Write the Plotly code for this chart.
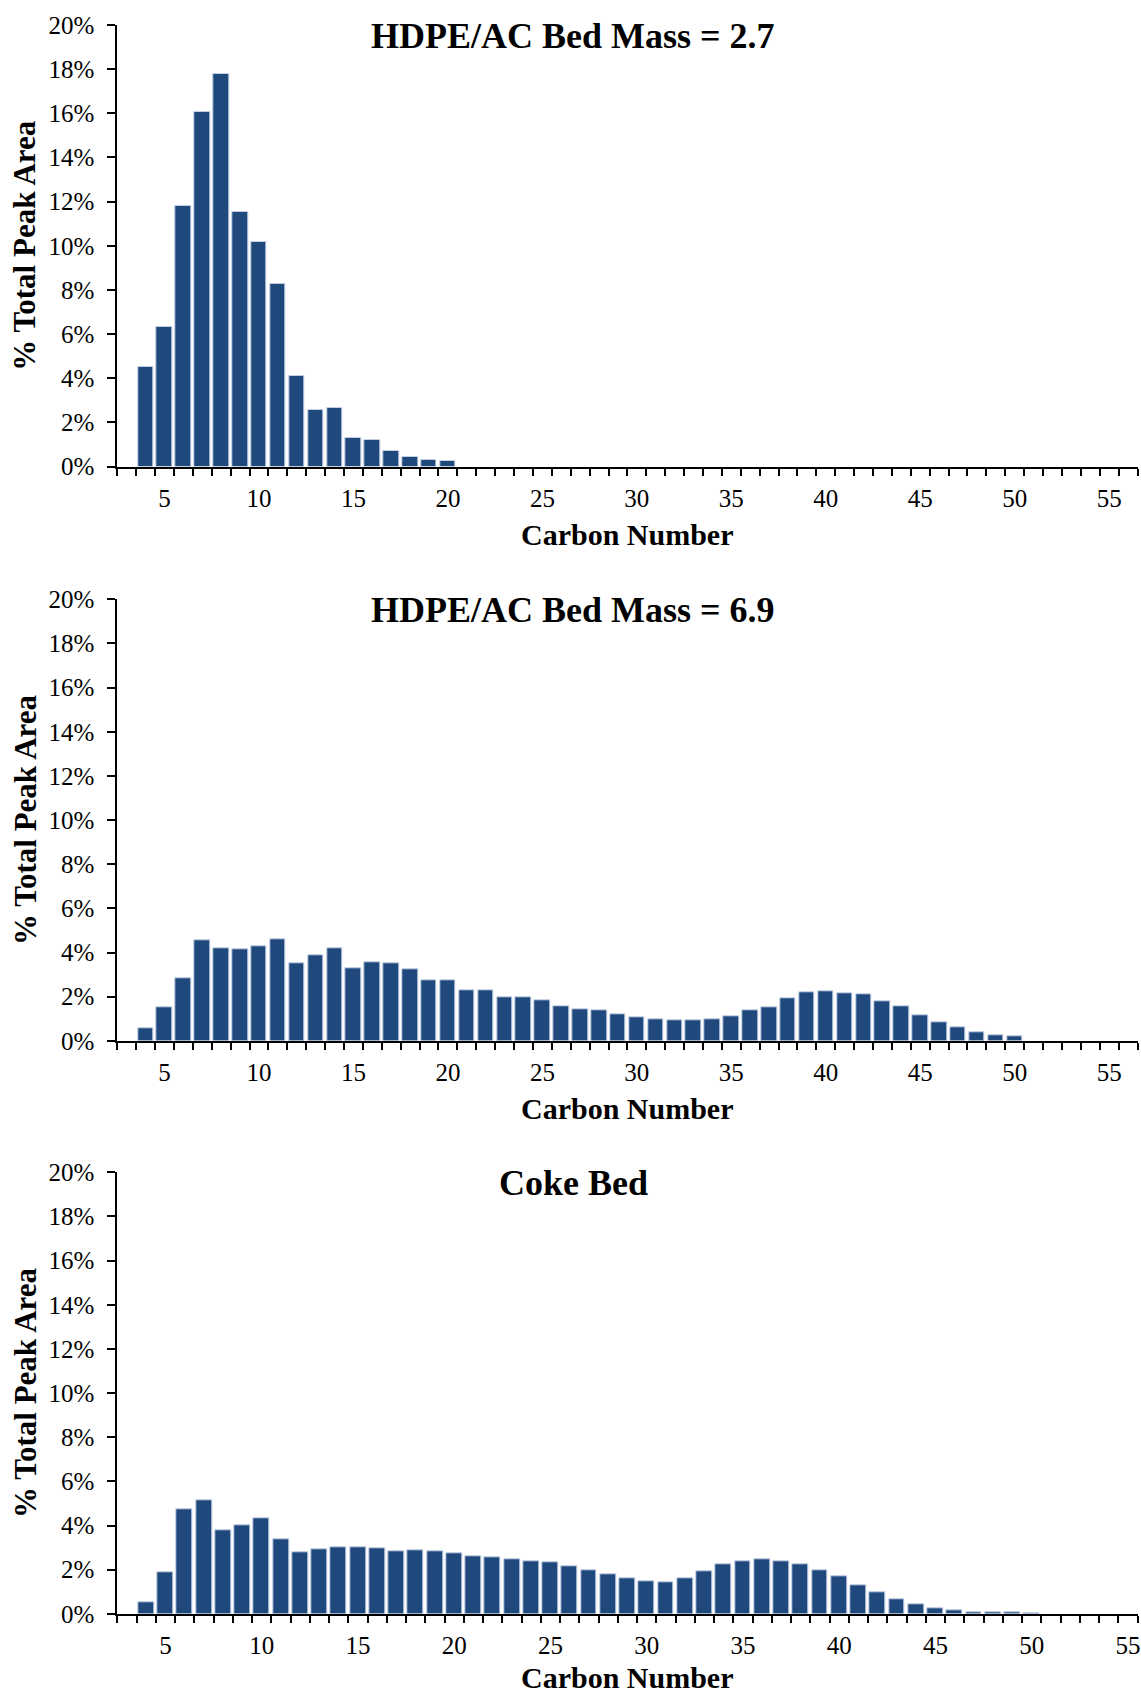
import plotly.graph_objects as go

# Carbon-number distributions (% of total GC peak area)
carbon_ac27 = list(range(4, 21))
pct_ac27 = [4.49, 6.30, 11.78, 16.06, 17.78, 11.52, 10.19, 8.28, 4.10,
            2.56, 2.67, 1.31, 1.20, 0.70, 0.44, 0.29, 0.24]

carbon_ac69 = list(range(4, 51))
pct_ac69 = [0.55, 1.52, 2.83, 4.55, 4.19, 4.14, 4.30, 4.61, 3.52, 3.89,
            4.19, 3.28, 3.55, 3.50, 3.23, 2.73, 2.72, 2.30, 2.28, 1.97,
            1.97, 1.83, 1.58, 1.44, 1.39, 1.20, 1.08, 0.97, 0.94, 0.94,
            0.97, 1.13, 1.36, 1.53, 1.92, 2.19, 2.25, 2.17, 2.11, 1.78,
            1.58, 1.16, 0.83, 0.63, 0.39, 0.23, 0.22]

carbon_coke = list(range(4, 51))
pct_coke = [0.50, 1.89, 4.73, 5.15, 3.80, 4.00, 4.33, 3.36, 2.77, 2.92,
            3.01, 3.01, 2.95, 2.84, 2.87, 2.81, 2.73, 2.62, 2.57, 2.46,
            2.38, 2.32, 2.16, 1.95, 1.78, 1.59, 1.47, 1.41, 1.59, 1.92,
            2.24, 2.40, 2.47, 2.38, 2.25, 1.99, 1.70, 1.31, 0.96, 0.65,
            0.41, 0.24, 0.14, 0.09, 0.06, 0.05, 0.03]

panel_titles = ["HDPE/AC Bed Mass = 2.7", "HDPE/AC Bed Mass = 6.9", "Coke Bed"]
x_last_category = [56, 56, 55]
x_label_vals = list(range(5, 60, 5))
y_tick_vals = list(range(0, 21, 2))
y_tick_text = ["%d%%" % v for v in y_tick_vals]
y_axis_title = "% Total Peak Area"
x_axis_title = "Carbon Number"

W, H = 1141, 1695
FONT = "Liberation Serif"
BAR_COLOR = "#1F497D"
EDGE_COLOR = "#c3d0e3"

# plot-area geometry in pixels
plot_left, plot_right = 117.3, 1137.5
panel_top = [25.0, 599.3, 1172.3]
panel_h = 441.5


def px_x(v):
    return v / W


def px_y(v):
    return 1 - v / H


series = [(carbon_ac27, pct_ac27), (carbon_ac69, pct_ac69), (carbon_coke, pct_coke)]

fig = go.Figure()
annotations = []
for i, (cx, cy) in enumerate(series):
    sfx = "" if i == 0 else str(i + 1)
    fig.add_trace(go.Bar(
        x=cx, y=cy, width=0.82,
        marker=dict(color=BAR_COLOR, line=dict(color=EDGE_COLOR, width=1)),
        xaxis="x" + sfx, yaxis="y" + sfx, showlegend=False,
    ))
    top = panel_top[i]
    bottom = top + panel_h
    last = x_last_category[i]
    boundaries = [b + 0.5 for b in range(2, last + 1)]
    fig.update_layout(**{
        "xaxis" + sfx: dict(
            domain=[px_x(plot_left), px_x(plot_right)],
            anchor="y" + sfx,
            range=[2.5, last + 0.5],
            tickmode="array", tickvals=x_label_vals,
            ticks="outside", ticklen=7, tickcolor="rgba(0,0,0,0)",
            ticklabelstandoff=1,
            minor=dict(tickmode="array", tickvals=boundaries, ticks="outside",
                       ticklen=7, tickwidth=2, tickcolor="black", showgrid=False),
            showline=True, linecolor="black", linewidth=2,
            showgrid=False, zeroline=False,
            tickfont=dict(family=FONT, size=25, color="black"),
            automargin=False, fixedrange=True,
        ),
        "yaxis" + sfx: dict(
            domain=[px_y(bottom), px_y(top)],
            anchor="x" + sfx,
            range=[0, 20],
            tickmode="array", tickvals=y_tick_vals, ticktext=y_tick_text,
            ticks="outside", ticklen=8, tickwidth=2, tickcolor="black",
            ticklabelstandoff=8,
            showline=True, linecolor="black", linewidth=2,
            showgrid=False, zeroline=False,
            tickfont=dict(family=FONT, size=25, color="black"),
            automargin=False, fixedrange=True,
        ),
    })
    offset = top - panel_top[0]
    annotations.append(dict(
        text="<b>%s</b>" % panel_titles[i], xref="paper", yref="paper",
        x=px_x(573), y=px_y(36 + offset), xanchor="center", yanchor="middle",
        showarrow=False, font=dict(family=FONT, size=36, color="black"),
    ))
    annotations.append(dict(
        text="<b>%s</b>" % x_axis_title, xref="paper", yref="paper",
        x=px_x(628), y=px_y(min(534 + offset, 1677)), xanchor="center", yanchor="middle",
        showarrow=False, font=dict(family=FONT, size=30, color="black"),
    ))
    annotations.append(dict(
        text="<b>%s</b>" % y_axis_title, xref="paper", yref="paper",
        x=px_x(25), y=px_y(top + panel_h / 2), xanchor="center", yanchor="middle",
        textangle=-90, showarrow=False, font=dict(family=FONT, size=31, color="black"),
    ))

fig.update_layout(
    width=W, height=H,
    margin=dict(l=0, r=0, t=0, b=0),
    paper_bgcolor="white", plot_bgcolor="white",
    bargap=0, annotations=annotations,
    font=dict(family=FONT, color="black"),
)

fig.write_html("out.html", config={"displayModeBar": False})
